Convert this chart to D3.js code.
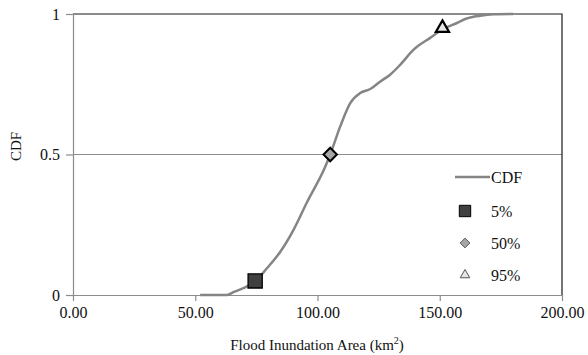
<!DOCTYPE html>
<html>
<head>
<meta charset="utf-8">
<script src="https://cdn.jsdelivr.net/npm/d3@7"></script>
<style>
  body { margin: 0; background: #fff; }
  svg text { font-family: "Liberation Serif", "Tinos", "DejaVu Serif", "Times New Roman", serif !important; }
</style>
</head>
<body>
<div id="chart"></div>
<script>
// CDF curve (area in km², cumulative probability)
const areaValues = [52, 63, 65.6, 70.4, 74.3, 79.3, 84.8, 90.2, 95.7, 103.2, 105.2, 109.3, 113.4, 117.5, 121.6, 125.7, 129.7, 133.8, 139.3, 146.1, 151.1, 157, 161, 166.5, 172, 180];
const cdfValues  = [0, 0, 0.01, 0.027, 0.047, 0.095, 0.154, 0.232, 0.33, 0.457, 0.5, 0.6, 0.683, 0.719, 0.733, 0.76, 0.784, 0.819, 0.873, 0.915, 0.945, 0.968, 0.984, 0.994, 0.999, 1];

// Percentile markers
const markerLabels = ['5%', '50%', '95%'];
const markerArea = [74.5, 105.2, 151.1];
const markerCdf = [0.05, 0.5, 0.95];

const xTicks = [0, 50, 100, 150, 200];
const yTicks = [0, 0.5, 1];

const width = 588;
const height = 355;
const margin = { top: 14, right: 26, bottom: 60, left: 73 };
const fontStack = '"Liberation Serif", "Tinos", "DejaVu Serif", serif';

const svg = d3.select('#chart')
  .append('svg')
  .attr('width', width)
  .attr('height', height)
  .attr('font-family', fontStack);

const x = d3.scaleLinear().domain([0, 200]).range([margin.left, width - margin.right]);
const y = d3.scaleLinear().domain([0, 1]).range([height - margin.bottom, margin.top]);

// Gridline at 0.5
svg.append('g')
  .selectAll('line')
  .data(yTicks.filter(d => d > 0 && d < 1))
  .enter()
  .append('line')
  .attr('x1', x(0))
  .attr('x2', x(200))
  .attr('y1', d => y(d))
  .attr('y2', d => y(d))
  .attr('stroke', '#8c8c8c')
  .attr('stroke-width', 1);

// Top and right border of the plot area
svg.append('path')
  .attr('d', `M${x(0)},${y(1)}H${x(200)}V${y(0)}`)
  .attr('fill', 'none')
  .attr('stroke', '#1a1a1a')
  .attr('stroke-width', 1.2);

// Axes
const xAxis = svg.append('g')
  .attr('transform', `translate(0,${y(0)})`)
  .call(d3.axisBottom(x).tickValues(xTicks).tickFormat(d3.format('.2f')).tickSize(6).tickSizeOuter(0));

const yAxis = svg.append('g')
  .attr('transform', `translate(${x(0)},0)`)
  .call(d3.axisLeft(y).tickValues(yTicks).tickFormat(d => String(d)).tickSize(7).tickSizeOuter(0));

[xAxis, yAxis].forEach(ax => {
  ax.attr('font-family', fontStack);
  ax.select('.domain').attr('stroke', '#8c8c8c').attr('stroke-width', 1.2);
  ax.selectAll('.tick line').attr('stroke', '#8c8c8c').attr('stroke-width', 1.2);
  ax.selectAll('.tick text')
    .attr('fill', '#111')
    .style('font-size', '16px');
});
xAxis.selectAll('.tick text').attr('dy', '0.9em');
yAxis.selectAll('.tick text').attr('x', -13).attr('dy', '0.33em');

// CDF line
const line = d3.line()
  .x((d, i) => x(areaValues[i]))
  .y((d, i) => y(cdfValues[i]))
  .curve(d3.curveMonotoneX);

svg.append('path')
  .datum(cdfValues)
  .attr('d', line)
  .attr('fill', 'none')
  .attr('stroke', '#858585')
  .attr('stroke-width', 2.5);

// Marker symbols
const markerStyles = [
  { type: d3.symbolSquare, size: 200, fill: '#404040', sw: 1.3 },
  { type: d3.symbolDiamond2, size: 115, fill: '#a6a6a6', sw: 2 },
  { type: d3.symbolTriangle2, size: 125, fill: '#e6e6e6', sw: 2.2 }
];

svg.append('g')
  .selectAll('path')
  .data(markerLabels)
  .enter()
  .append('path')
  .attr('transform', (d, i) => `translate(${x(markerArea[i])},${y(markerCdf[i])})`)
  .attr('d', (d, i) => d3.symbol().type(markerStyles[i].type).size(markerStyles[i].size)())
  .attr('fill', (d, i) => markerStyles[i].fill)
  .attr('stroke', '#000')
  .attr('stroke-width', (d, i) => markerStyles[i].sw);

// Legend
const legend = svg.append('g').attr('transform', 'translate(455,177)');
legend.append('line')
  .attr('x1', 0).attr('x2', 35)
  .attr('stroke', '#858585')
  .attr('stroke-width', 2.5);
legend.append('text')
  .attr('x', 36).attr('y', 6)
  .style('font-size', '16px')
  .attr('fill', '#111')
  .text('CDF');

const legendSizes = [130, 60, 65];
markerLabels.forEach((label, i) => {
  const g = legend.append('g').attr('transform', `translate(0,${34 + i * 32})`);
  g.append('path')
    .attr('transform', 'translate(10,0)')
    .attr('d', d3.symbol().type(markerStyles[i].type).size(legendSizes[i])())
    .attr('fill', markerStyles[i].fill)
    .attr('stroke', i === 0 ? '#000' : '#555')
    .attr('stroke-width', 1);
  g.append('text')
    .attr('x', 36).attr('y', 6)
    .style('font-size', '16px')
    .attr('fill', '#111')
    .text(label);
});

// Axis titles
const xTitle = svg.append('text')
  .attr('x', 317)
  .attr('y', 350)
  .attr('text-anchor', 'middle')
  .style('font-size', '15px')
  .attr('fill', '#111');
xTitle.append('tspan').text('Flood Inundation  Area (km');
xTitle.append('tspan').attr('dy', -6).style('font-size', '10px').text('2');
xTitle.append('tspan').attr('dy', 6).text(')');

svg.append('text')
  .attr('transform', `translate(21,${y(0.5) - 8}) rotate(-90)`)
  .attr('text-anchor', 'middle')
  .style('font-size', '15px')
  .attr('fill', '#111')
  .text('CDF');
</script>
</body>
</html>
